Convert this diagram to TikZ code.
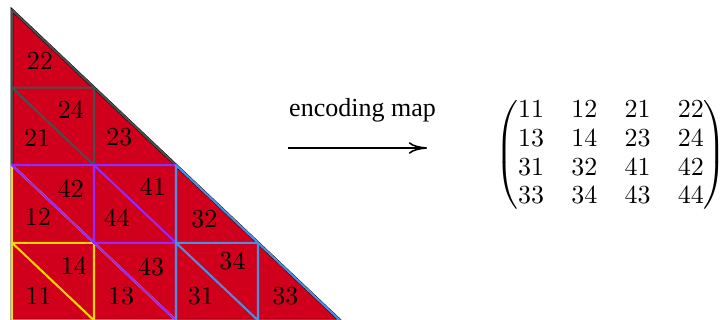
\documentclass[tikz,border=0pt]{standalone}
\usepackage{amsmath}
\usepackage{fontspec}
\newfontfamily\timesfont{Liberation Serif}
\usetikzlibrary{arrows.meta}
\definecolor{cellred}{RGB}{208,0,28}
\definecolor{edgegray}{RGB}{77,77,77}
\definecolor{edgepurple}{RGB}{150,40,255}
\definecolor{edgeyellow}{RGB}{255,215,0}
\definecolor{edgeblue}{RGB}{74,144,226}
\begin{document}
\begin{tikzpicture}[x=0.3846pt,y=-0.3846pt,
  lab/.style={inner sep=0pt, font=\fontsize{10}{12}\selectfont},
  edge/.style={line width=0.8pt, line join=round, line cap=round}]
\useasboundingbox (0,0) rectangle (720,320);
\foreach \i/\xx in {0/12,1/94,2/176,3/258,4/340}
  \foreach \j/\yy in {0/10,1/87.6,2/165.2,3/242.8,4/320.4}
    \coordinate (p\i\j) at (\xx,\yy);
% big triangle
\fill[cellred] (p00) -- (p04) -- (p44) -- cycle;
\draw[line width=1.1pt, line join=miter] (p00) -- (p04) -- (p44) -- cycle;
% gray sub-triangle (2x)
\draw[edge, edgegray] (p00) -- (p02) -- (p22) -- cycle;
\draw[edge, edgegray] (p01) -- (p11) -- (p12) (p01) -- (p12);
% yellow sub-triangle (1x)
\draw[edge, edgeyellow] (p02) -- (p04) -- (p24) -- cycle;
\draw[edge, edgeyellow] (p03) -- (p13) -- (p14) (p03) -- (p14);
% purple sub-triangle (4x)
\draw[edge, edgepurple] (p02) -- (p22) -- (p24) -- cycle;
\draw[edge, edgepurple] (p12) -- (p13) -- (p23) (p12) -- (p23);
% blue sub-triangle (3x)
\draw[edge, edgeblue] (p22) -- (p24) -- (p44) -- cycle;
\draw[edge, edgeblue] (p23) -- (p33) -- (p34) (p23) -- (p34);
% labels
\node[lab] (l22) at (40,61) {22};
\node[lab] (l24) at (71,110) {24};
\node[lab] (l21) at (37,138) {21};
\node[lab] (l23) at (119.5,137) {23};
\node[lab] (l42) at (71,189) {42};
\node[lab] (l12) at (38,217) {12};
\node[lab] (l41) at (153,187) {41};
\node[lab] (l44) at (117,218) {44};
\node[lab] (l14) at (74,266) {14};
\node[lab] (l11) at (38.5,296) {11};
\node[lab] (l43) at (151,266.5) {43};
\node[lab] (l13) at (121,296.5) {13};
\node[lab] (l32) at (204.5,219) {32};
\node[lab] (l34) at (232.5,261) {34};
\node[lab] (l31) at (201,296) {31};
\node[lab] (l33) at (285.5,296) {33};
% arrow with label
\coordinate (a1) at (288,148);
\coordinate (a2) at (427,148);
\draw[line width=0.6pt, -{To[length=7pt,width=4.5pt]}] (a1) -- (a2);
\node[inner sep=0pt, anchor=base, font=\timesfont\fontsize{10}{12}\selectfont] (enc) at (362.5,117) {encoding map};
% matrix
\node[inner sep=0pt, font=\fontsize{10}{12}\selectfont] (mat) at (611,155)
  {\arraycolsep=5.25pt\renewcommand{\arraystretch}{0.92}$\begin{pmatrix}
  11 & 12 & 21 & 22\\
  13 & 14 & 23 & 24\\
  31 & 32 & 41 & 42\\
  33 & 34 & 43 & 44
  \end{pmatrix}$};
\end{tikzpicture}
\end{document}
